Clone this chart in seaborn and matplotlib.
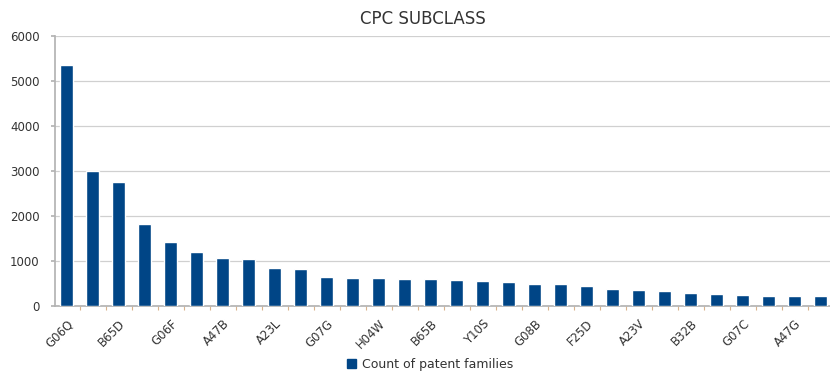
import numpy as np
import seaborn as sns
import matplotlib.pyplot as plt
from matplotlib.patches import Patch

# counts per CPC subclass (30 bars, sorted desc)
counts = [5350, 3000, 2755, 1820, 1420, 1200, 1065, 1035, 845, 830,
          645, 630, 630, 600, 590, 578, 563, 526, 496, 481,
          452, 385, 356, 333, 281, 267, 244, 230, 230, 215]
# only every other subclass is labelled in the source
tick_labels = ['G06Q', 'B65D', 'G06F', 'A47B', 'A23L', 'G07G', 'H04W', 'B65B',
               'Y10S', 'G08B', 'F25D', 'A23V', 'B32B', 'G07C', 'A47G']
series_name = 'Count of patent families'
title = 'CPC SUBCLASS'

sns.set_theme(style='white')
plt.rcParams['font.family'] = ['DejaVu Sans']

bar_color = '#004586'
text_color = '#333333'

fig = plt.figure(figsize=(8.3, 3.72), dpi=100)
ax = fig.add_axes([0.0663, 0.1774, 0.9337, 0.7258])

pos = np.arange(len(counts))
sns.barplot(x=pos, y=counts, color=bar_color, width=0.5, saturation=1,
            native_scale=True, ax=ax, zorder=3)

ax.set_xlim(-0.46, 29.35)
ax.set_ylim(0, 6000)
ax.set_yticks(range(0, 6001, 1000))
ax.yaxis.grid(True, color='#d0d0d0', linewidth=0.9, zorder=0)
ax.xaxis.grid(False)

ax.set_xticks(pos[::2])
ax.set_xticklabels(tick_labels, rotation=45, ha='right', rotation_mode='anchor',
                   fontsize=8.5, color=text_color)
ax.set_xticks(pos[:-1] + 0.5, minor=True)
ax.tick_params(axis='x', which='major', length=0, pad=8)
ax.tick_params(axis='x', which='minor', length=3, color='#d9b38c', width=0.8,
               bottom=True)
ax.tick_params(axis='y', labelsize=8.5, labelcolor=text_color, length=3,
               color='#b3b3b3', left=True, pad=8)

for side in ['top', 'right']:
    ax.spines[side].set_visible(False)
ax.spines['left'].set_color('#b3b3b3')
ax.spines['bottom'].set_color('#b3b3b3')
ax.set_xlabel('')
ax.set_ylabel('')

fig.text(0.51, 0.95, title, ha='center', va='center', fontsize=12,
         color=text_color)

fig.legend(handles=[Patch(color=bar_color)], labels=[series_name],
           loc='center', bbox_to_anchor=(0.518, 0.02), frameon=False,
           fontsize=9, handlelength=0.7, handleheight=0.7, handletextpad=0.5,
           labelcolor=text_color)

fig.savefig('out.png', dpi=100)
